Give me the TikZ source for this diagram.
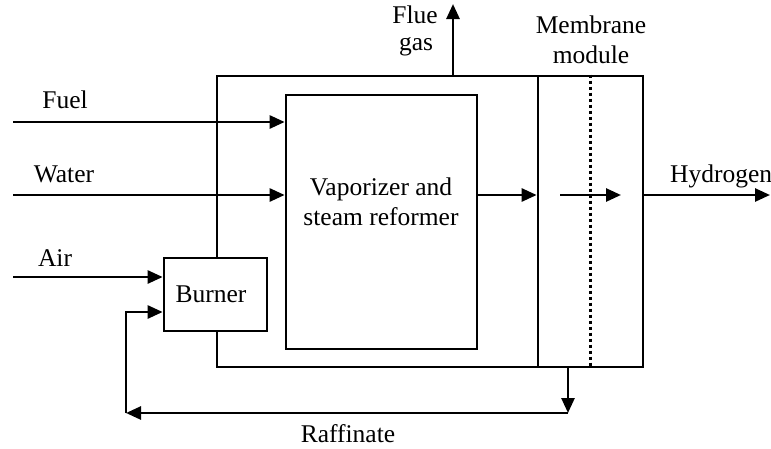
\documentclass[tikz,border=0pt]{standalone}
\usepackage{fontspec}
\setmainfont{Liberation Serif}
\usetikzlibrary{arrows.meta, positioning}

\begin{document}
\begin{tikzpicture}[
    x=1pt, y=-1pt,
    unit/.style={rectangle, draw, line width=2.7pt, inner sep=0pt, fill=white},
    stream/.style={anchor=base, inner sep=0pt, font=\fontsize{25.5}{30}\selectfont},
    flow/.style={-{Triangle[length=15pt, width=13pt]}, line width=2.7pt}
]

% Background
\useasboundingbox[fill=white] (0, 0) rectangle (771, 448);

% Furnace, reformer and membrane
\node[unit, minimum width=321, minimum height=291] (furnace) at (377.5, 221.5) {};
\node[unit, minimum width=191, minimum height=254] (reformer) at (381.5, 222) {};
\node[unit, minimum width=105, minimum height=291] (membrane) at (590.5, 221.5) {};
\node[unit, minimum width=103, minimum height=73] (burner) at (215.5, 294.5) {};

% Membrane wall
\draw[line width=2.8pt, dash pattern=on 3pt off 3pt] (membrane.north) -- (membrane.south);

% Texts
\node[stream] (vap) at (381, 195) {Vaporizer and};
\node[stream] (ref) at (381, 225) {steam reformer};
\node[stream] (burn) at (211, 302) {Burner};
\node[stream] (fuel) at (65, 108) {Fuel};
\node[stream] (water) at (64, 182) {Water};
\node[stream] (air) at (55, 266) {Air};
\node[stream] (flue) at (415, 23) {Flue};
\node[stream] (gas) at (416, 50) {gas};
\node[stream] (memb) at (591, 33) {Membrane};
\node[stream] (modl) at (591, 63) {module};
\node[stream, anchor=base west] (hyd) at (670, 182) {Hydrogen};
\node[stream] (raff) at (348, 442) {Raffinate};

% Free ends
\coordinate (fuelin) at (13, 122);
\coordinate (waterin) at (13, 195);
\coordinate (airin) at (13, 277);
\coordinate (flueout) at (453, 4);
\coordinate (sepa) at (560, 195);
\coordinate (sepb) at (621, 195);
\coordinate (h2out) at (770, 195);
\coordinate (raffa) at (568, 413);
\coordinate (raffb) at (126, 413);
\coordinate (recyc) at (126, 312);

% Connections
\draw[flow] (fuelin) -- (reformer.west |- fuelin);
\draw[flow] (waterin) -- (reformer.west |- waterin);
\draw[flow] (airin) -- (burner.west |- airin);
\draw[flow] (flueout |- furnace.north) -- (flueout);
\draw[flow] (reformer.east |- waterin) -- (membrane.west |- waterin);
\draw[flow] (sepa) -- (sepb);
\draw[flow] (membrane.east |- waterin) -- (h2out);
\draw[flow] (raffa |- membrane.south) -- (raffa);
\draw[flow] (raffa) -- (raffb);
\draw[flow] (raffb) -- (recyc) -- (burner.west |- recyc);

\end{tikzpicture}
\end{document}
